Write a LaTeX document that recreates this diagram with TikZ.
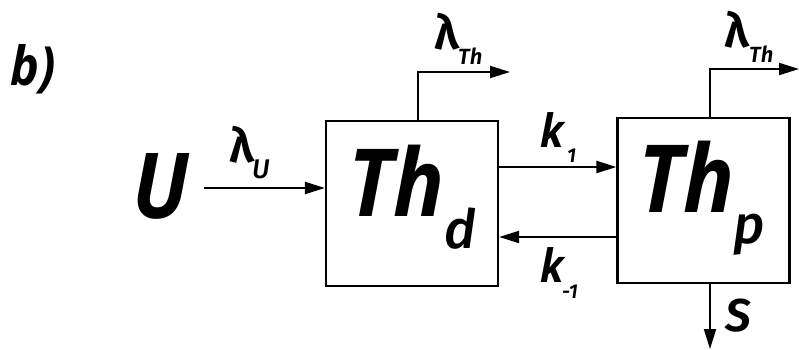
\documentclass[tikz,border=0pt]{standalone}
\usepackage{fontspec}
\setmainfont{Fira Sans}
\newfontfamily\osb{Open Sans}[FakeStretch=0.9]
\newfontfamily\fsemi{Fira Sans SemiBold}[ItalicFont={Fira Sans SemiBold Italic}]
\newfontfamily\fmed{Fira Sans Medium}[ItalicFont={Fira Sans Medium Italic}]
\usetikzlibrary{arrows.meta}
\begin{document}
\begin{tikzpicture}[x=1pt,y=-1pt,
  box/.style={draw,line width=2.2pt,inner sep=0pt,minimum width=172pt,minimum height=165pt},
  arr/.style={line width=2pt,-{Triangle[length=20pt,width=12pt]}},
  txt/.style={inner sep=0pt,anchor=base west},
  big/.style={txt,font=\fontsize{94}{94}\selectfont\osb\bfseries\itshape},
  lam/.style={txt,font=\fontsize{48}{48}\selectfont\fsemi},
  kf/.style={txt,font=\fontsize{46}{46}\selectfont\osb\bfseries\itshape},
  sub/.style={txt,font=\fontsize{54}{54}\selectfont\fmed\itshape},
  small/.style={txt,font=\fontsize{20}{20}\selectfont\fsemi\itshape}]
\useasboundingbox (0,0) rectangle (799,350);
\node[box] (box1) at (412,203.5) {};
\node[box] (box2) at (703.5,200.5) {};
% labels
\node[txt,font=\fontsize{54}{54}\selectfont\osb\bfseries\itshape] (lb) at (10,85) {b)};
\node[big,font=\fontsize{91}{91}\selectfont\osb\bfseries\itshape] (U) at (132,218) {U};
\node[big] (Th1) at (348,216) {Th};
\node[sub] (d) at (444,248) {d};
\node[big] (Th2) at (638,212) {Th};
\node[sub] (p) at (733,243) {p};
\node[lam] (lu) at (229,162) {λ};
\node[txt,font=\fontsize{27}{27}\selectfont\fmed\itshape] (lus) at (252,178) {U};
\node[lam] (lt1) at (434,50) {λ};
\node[txt,font=\fontsize{22}{22}\selectfont\fsemi\itshape] (lt1s) at (458,65) {Th};
\node[lam] (lt2) at (724,48) {λ};
\node[txt,font=\fontsize{22}{22}\selectfont\fsemi\itshape] (lt2s) at (749,63) {Th};
\node[kf] (k1) at (540,147) {k};
\node[small] (k1s) at (567,162) {1};
\node[kf] (km) at (540,282) {k};
\node[small] (kms) at (562,298) {-1};
\node[txt,font=\fontsize{46}{46}\selectfont\fsemi\itshape] (S) at (725,331) {S};
% coordinates
\coordinate (u0) at (204,188);
\coordinate (t1) at (418,72);
\coordinate (t1e) at (510,72);
\coordinate (t2) at (710,69);
\coordinate (t2e) at (799,69);
\coordinate (ky) at (0,167);
\coordinate (kmy) at (0,237);
\coordinate (se) at (710,349);
% connectors
\draw[arr] (u0) -- (u0 -| box1.west);
\draw[arr] (t1 |- box1.north) -- (t1) -- (t1e);
\draw[arr] (t2 |- box2.north) -- (t2) -- (t2e);
\draw[arr] (box1.east |- ky) -- (box2.west |- ky);
\draw[arr] (box2.west |- kmy) -- (box1.east |- kmy);
\draw[arr] (se |- box2.south) -- (se);
\end{tikzpicture}
\end{document}
